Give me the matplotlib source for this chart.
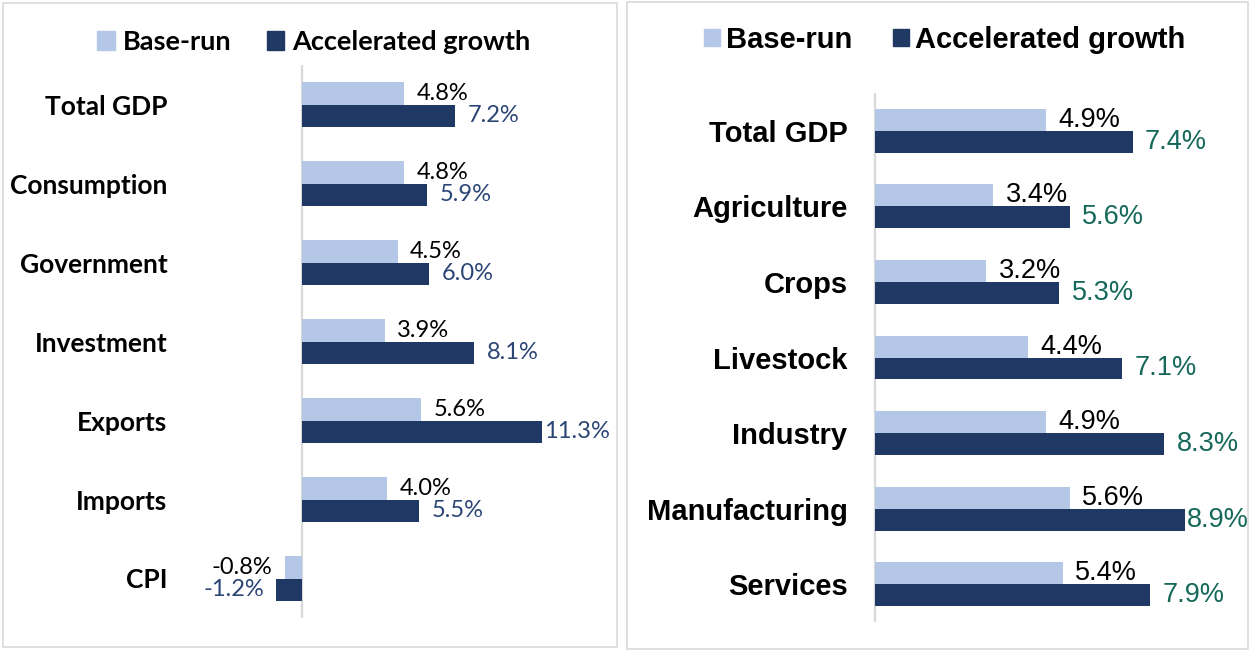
import numpy as np
import matplotlib
matplotlib.use("Agg")
import matplotlib.pyplot as plt
from matplotlib.patches import Rectangle, Patch

# left panel: demand side
left_cats = ["Total GDP", "Consumption", "Government", "Investment", "Exports", "Imports", "CPI"]
left_base = [4.8, 4.8, 4.5, 3.9, 5.6, 4.0, -0.8]
left_accel = [7.2, 5.9, 6.0, 8.1, 11.3, 5.5, -1.2]

# right panel: sectors
right_cats = ["Total GDP", "Agriculture", "Crops", "Livestock", "Industry", "Manufacturing", "Services"]
right_base = [4.9, 3.4, 3.2, 4.4, 4.9, 5.6, 5.4]
right_accel = [7.4, 5.6, 5.3, 7.1, 8.3, 8.9, 7.9]

series_names = ["Base-run", "Accelerated growth"]

LIGHT = "#B4C7E7"
DARK = "#203864"
W, H = 1251, 650


def px_axes(fig, x0, y0, x1, y1):
    # pixel box (top-left origin) -> axes
    return fig.add_axes([x0 / W, (H - y1) / H, (x1 - x0) / W, (y1 - y0) / H])


def draw_panel(ax, cats, base, accel, xlim, bar_h, font, cat_size, val_size,
               dark_lbl_color, hug_frac):
    y = np.arange(len(cats))
    ax.barh(y - bar_h / 2, base, height=bar_h, color=LIGHT)
    ax.barh(y + bar_h / 2, accel, height=bar_h, color=DARK)
    ax.axvline(0, color="#D9D9D9", lw=1.6, zorder=0)
    ax.set_xlim(*xlim)
    ax.set_ylim(len(cats) - 0.5, -0.5)
    ax.set_xticks([])
    ax.set_yticks(y)
    ax.set_yticklabels(cats, fontfamily=font, fontweight="bold", fontsize=cat_size)
    ax.tick_params(axis="y", length=0, pad=9)
    for s in ax.spines.values():
        s.set_visible(False)

    for vals, off, color in [(base, -bar_h / 2, "black"), (accel, bar_h / 2, dark_lbl_color)]:
        for i, v in enumerate(vals):
            sign = 1 if v >= 0 else -1
            gap = 9
            # labels close to the right edge hug the bar end
            if v > hug_frac * xlim[1]:
                gap = 1.5
            ax.annotate(f"{v:.1f}%", (v, i + off), xytext=(gap * sign, 0),
                        textcoords="offset points", va="center",
                        ha="left" if v >= 0 else "right",
                        fontfamily=font, fontsize=val_size, color=color)


fig = plt.figure(figsize=(12.51, 6.5), dpi=100)

# panel frames
fig.patches.append(Rectangle((3 / W, 3 / H), 614 / W, 644 / H, transform=fig.transFigure,
                             fill=False, ec="#D9D9D9", lw=1.2))
fig.patches.append(Rectangle((627 / W, 1 / H), 621 / W, 647 / H, transform=fig.transFigure,
                             fill=False, ec="#D9D9D9", lw=1.2))

ax1 = px_axes(fig, 180, 65, 612, 618)
draw_panel(ax1, left_cats, left_base, left_accel, (-5.74, 14.59), 0.285,
           "Lato", 19, 17, "#2B4575", 0.75)

ax2 = px_axes(fig, 860, 93, 1245, 622)
draw_panel(ax2, right_cats, right_base, right_accel, (-0.431, 10.63), 0.29,
           "Liberation Sans", 21, 19.5, "#16695A", 0.8)

handles = [Patch(color=LIGHT), Patch(color=DARK)]
fig.legend(handles, series_names, loc="center", bbox_to_anchor=(314 / W, 1 - 42 / H),
           ncol=2, frameon=False, handlelength=0.65, handleheight=0.65, handletextpad=0.3,
           columnspacing=1.3, prop={"family": "Lato", "weight": "bold", "size": 19.5})
fig.legend(handles, series_names, loc="center", bbox_to_anchor=(945 / W, 1 - 40 / H),
           ncol=2, frameon=False, handlelength=0.55, handleheight=0.55, handletextpad=0.2,
           columnspacing=1.4, prop={"family": "Liberation Sans", "weight": "bold", "size": 21})

fig.savefig("out.png", dpi=100)
